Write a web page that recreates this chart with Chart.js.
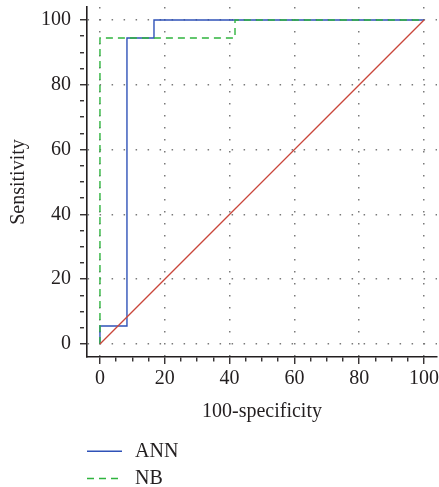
<!DOCTYPE html>
<html>
<head>
<meta charset="utf-8">
<script src="https://cdn.jsdelivr.net/npm/chart.js@4/dist/chart.umd.min.js"></script>
<style>
  html, body { margin: 0; padding: 0; background: #ffffff; }
  #wrap { width: 439px; height: 487px; }
</style>
</head>
<body>
<div id="wrap"><canvas id="c" width="439" height="487"></canvas></div>
<script>
// ---- data ----
const annX = [0, 0, 8.33, 8.33, 16.67, 16.67, 100];
const annY = [0, 5.56, 5.56, 94.44, 94.44, 100, 100];
const nbX  = [0, 0, 41.67, 41.67, 100];
const nbY  = [0, 94.44, 94.44, 100, 100];
const refX = [0, 100];
const refY = [0, 100];
const seriesLabels = ['ANN', 'NB'];
const xTitle = '100-specificity';
const yTitle = 'Sensitivity';
const majorTicks = [0, 20, 40, 60, 80, 100];

const toPts = (xs, ys) => xs.map((x, i) => ({x: x, y: ys[i]}));
const FONT = 'Liberation Serif';
const FS = 20;
const isMajor = v => majorTicks.indexOf(v) !== -1;

const legendPlugin = {
  id: 'rocLegend',
  afterDraw(chart, args, opts) {
    const ctx = chart.ctx;
    ctx.save();
    let y = opts.y;
    chart.data.datasets.forEach(ds => {
      if (!ds.label) return;
      ctx.beginPath();
      ctx.strokeStyle = ds.borderColor;
      ctx.lineWidth = ds.borderWidth;
      ctx.setLineDash(ds.borderDash || []);
      ctx.moveTo(opts.x, y);
      ctx.lineTo(opts.x + opts.lineLen, y);
      ctx.stroke();
      ctx.setLineDash([]);
      ctx.fillStyle = '#231f20';
      ctx.font = opts.fontSize + 'px "' + FONT + '"';
      ctx.textBaseline = 'middle';
      ctx.textAlign = 'left';
      ctx.fillText(ds.label, opts.x + opts.lineLen + opts.gap, y);
      y += opts.step;
    });
    ctx.restore();
  }
};

const gridCommon = {
  color: ctx => (ctx.tick && isMajor(ctx.tick.value)) ? '#7a7a7a' : 'rgba(0,0,0,0)',
  lineWidth: 1.5,
  tickLength: 7,
  tickColor: '#231f20',
  tickWidth: 1.3,
  tickBorderDash: ctx => (ctx.tick && isMajor(ctx.tick.value)) ? [] : [4, 100]
};

new Chart(document.getElementById('c'), {
  type: 'scatter',
  data: {
    datasets: [
      { label: '', data: toPts(refX, refY), showLine: true, borderColor: '#c9463b', borderWidth: 1.3, pointRadius: 0, order: 0 },
      { label: seriesLabels[0], data: toPts(annX, annY), showLine: true, borderColor: '#2f52b8', borderWidth: 1.4, pointRadius: 0, order: 2 },
      { label: seriesLabels[1], data: toPts(nbX, nbY), showLine: true, borderColor: '#2fb43e', borderWidth: 1.4, borderDash: [7, 5], pointRadius: 0, order: 1 }
    ]
  },
  options: {
    responsive: false,
    animation: false,
    layout: { padding: { left: 0, right: 2, top: 7, bottom: 60 } },
    plugins: {
      legend: { display: false },
      tooltip: { enabled: false },
      rocLegend: { x: 87, y: 451.3, step: 27.2, lineLen: 35, gap: 13, fontSize: FS }
    },
    scales: {
      x: {
        type: 'linear',
        min: -4, max: 104,
        ticks: {
          stepSize: 5, includeBounds: false, autoSkip: false, maxRotation: 0,
          padding: 3, color: '#231f20',
          font: { family: FONT, size: FS },
          callback: v => isMajor(v) ? String(v) : ''
        },
        grid: gridCommon,
        border: { display: true, color: '#231f20', width: 1.6, dash: [1.5, 10.5] },
        title: { display: true, text: xTitle, color: '#231f20', font: { family: FONT, size: FS }, padding: { top: 0, bottom: 3.5 } },
        afterFit: s => { s.height = 70; s.paddingLeft = 0; s.paddingRight = 0; }
      },
      y: {
        type: 'linear',
        min: -4, max: 104,
        ticks: {
          stepSize: 5, includeBounds: false, autoSkip: false,
          padding: 9, color: '#231f20',
          font: { family: FONT, size: FS },
          callback: v => isMajor(v) ? String(v) : ''
        },
        grid: gridCommon,
        border: { display: true, color: '#231f20', width: 1.6, dash: [1.5, 10.5] },
        title: { display: true, text: yTitle, color: '#231f20', font: { family: FONT, size: FS }, padding: { top: 7, bottom: 0 } },
        afterFit: s => { s.width = 87; s.paddingTop = 0; s.paddingBottom = 0; }
      }
    }
  },
  plugins: [legendPlugin]
});
</script>
</body>
</html>
